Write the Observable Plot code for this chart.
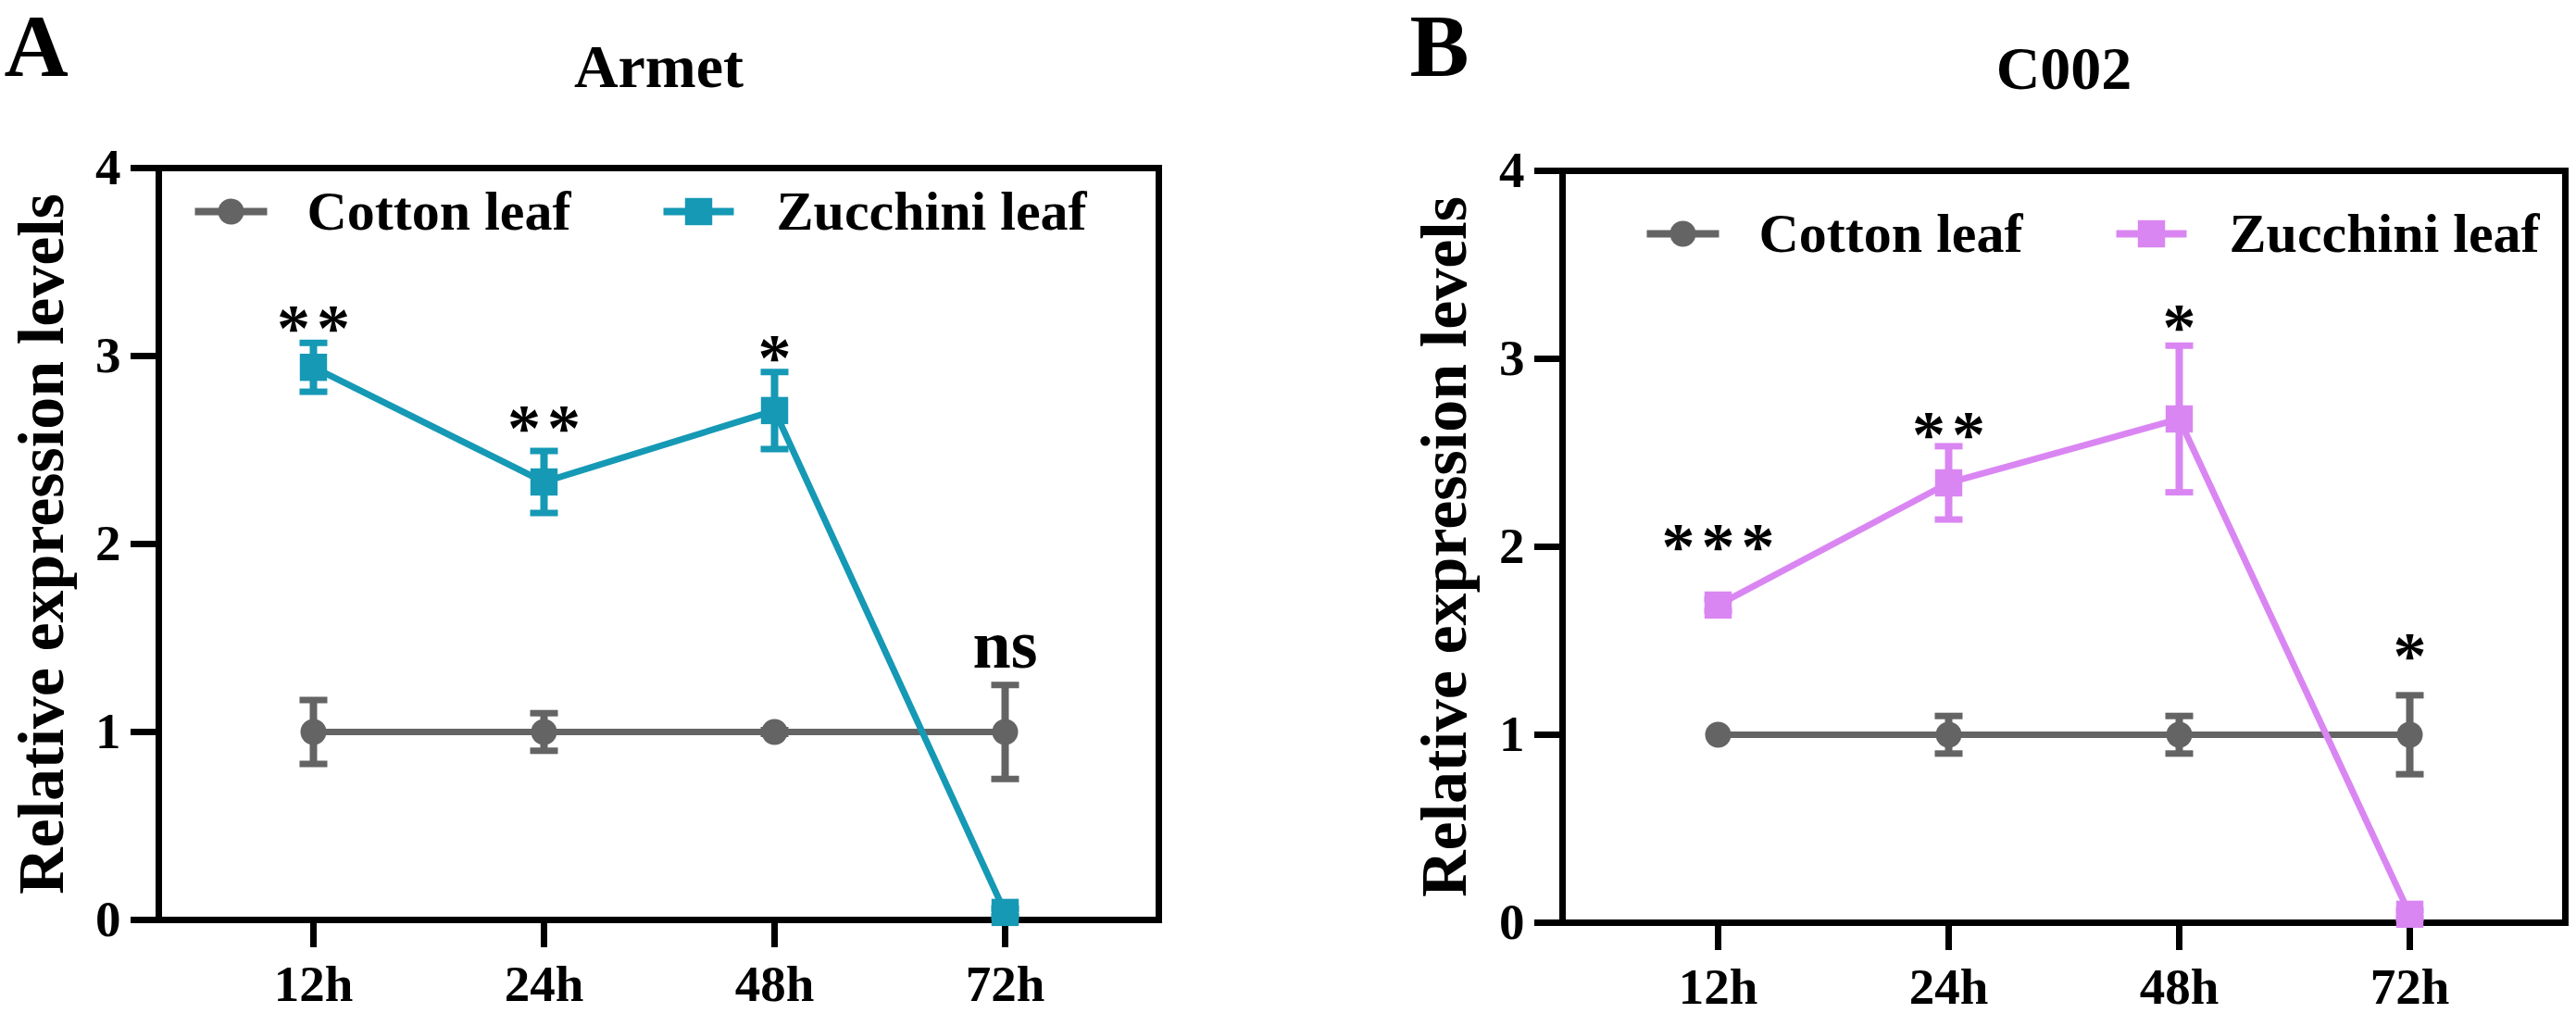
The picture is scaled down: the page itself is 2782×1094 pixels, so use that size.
<!DOCTYPE html>
<html>
<head>
<meta charset="utf-8">
<script src="https://cdn.jsdelivr.net/npm/d3@7"></script>
<script src="https://cdn.jsdelivr.net/npm/@observablehq/plot@0.6"></script>
<style>
  html, body { margin: 0; padding: 0; background: white; }
  #wrap { display: flex; width: 2782px; height: 1094px; }
</style>
</head>
<body>
<div id="wrap"></div>
<script>
// ---- data ----
const times = ["12h", "24h", "48h", "72h"];
const seriesNames = ["Cotton leaf", "Zucchini leaf"];

const armetCotton = [1.00, 1.00, 1.00, 1.00];
const armetCottonErr = [0.17, 0.10, 0.01, 0.25];
const armetZucchini = [2.94, 2.33, 2.71, 0.04];
const armetZucchiniErr = [0.13, 0.165, 0.205, 0.02];
const armetSig = ["**", "**", "*", "ns"];
const armetSigY = [3.20, 2.67, 3.04, 1.43];

const c002Cotton = [1.00, 1.00, 1.00, 1.00];
const c002CottonErr = [0.00, 0.10, 0.10, 0.21];
const c002Zucchini = [1.69, 2.34, 2.68, 0.045];
const c002ZucchiniErr = [0.03, 0.195, 0.39, 0.02];
const c002Sig = ["***", "**", "*", "*"];
const c002SigY = [2.05, 2.65, 3.22, 1.47];

const yTicks = [0, 1, 2, 3, 4];

const GRAY = "#646464";
const TEAL = "#1599B5";
const PINK = "#DA86F2";
const FONT = "'Liberation Serif', 'Times New Roman', Times, serif";

const hLine = { draw(ctx, size) { const w = Math.sqrt(size / Math.PI); ctx.moveTo(-w, 0); ctx.lineTo(w, 0); } };

function rows(vals, errs) {
  return times.map((t, i) => ({ t, v: vals[i], e: errs[i] }));
}

function panel(cfg) {
  const cot = rows(cfg.cotton, cfg.cottonErr);
  const zuc = rows(cfg.zucchini, cfg.zucchiniErr);
  const sig = times.map((t, i) => ({ t, y: cfg.sigY[i], s: cfg.sig[i] }));
  const errMarks = (data, color) => [
    Plot.ruleX(data.filter(d => d.e > 0), { x: "t", y1: d => d.v - d.e, y2: d => d.v + d.e, stroke: color, strokeWidth: 8 }),
    Plot.dot(data.filter(d => d.e > 0), { x: "t", y: d => d.v + d.e, symbol: hLine, r: 15, fill: "none", stroke: color, strokeWidth: 7 }),
    Plot.dot(data.filter(d => d.e > 0), { x: "t", y: d => d.v - d.e, symbol: hLine, r: 15, fill: "none", stroke: color, strokeWidth: 7 })
  ];
  const L = cfg.legend;
  return Plot.plot({
    width: 1391,
    height: 1094,
    marginLeft: cfg.ml, marginRight: cfg.mr, marginTop: cfg.mt, marginBottom: cfg.mb,
    style: { fontFamily: FONT, fontWeight: "bold", background: "white", color: "black", overflow: "visible" },
    x: { type: "point", domain: times, padding: 0.667, label: null },
    y: { domain: [0, 4], label: null },
    marks: [
      Plot.frame({ stroke: "black", strokeWidth: 7 }),
      Plot.axisY({ ticks: yTicks, tickSize: 30, tickPadding: 11, fontSize: 55, fontWeight: "bold", strokeWidth: 7, label: null, tickFormat: d3.format("d") }),
      Plot.axisX({ tickSize: 30, tickPadding: 18, fontSize: 55, fontWeight: "bold", strokeWidth: 7, label: null }),
      // cotton series
      ...errMarks(cot, GRAY),
      Plot.line(cot, { x: "t", y: "v", stroke: GRAY, strokeWidth: 7 }),
      Plot.dot(cot, { x: "t", y: "v", r: 14, fill: GRAY, stroke: "none" }),
      // zucchini series
      ...errMarks(zuc, cfg.color),
      Plot.line(zuc, { x: "t", y: "v", stroke: cfg.color, strokeWidth: 7 }),
      Plot.dot(zuc, { x: "t", y: "v", symbol: "square", r: 16.6, fill: cfg.color, stroke: "none" }),
      // significance
      Plot.text(sig.filter(d => d.s !== "ns"), { x: "t", y: "y", text: "s", fontSize: 72, fontWeight: "bold", lineAnchor: "middle", dy: 11, dx: 3.5 }),
      Plot.text(sig.filter(d => d.s === "ns"), { x: "t", y: "y", text: "s", fontSize: 74, fontWeight: "bold", lineAnchor: "middle", dy: -6 }),
      // legend
      Plot.dot([0], { frameAnchor: "top-left", dx: L.c, dy: L.y, symbol: hLine, r: 39, fill: "none", stroke: GRAY, strokeWidth: 8 }),
      Plot.dot([0], { frameAnchor: "top-left", dx: L.c, dy: L.y, r: 14, fill: GRAY }),
      Plot.text([seriesNames[0]], { frameAnchor: "top-left", dx: L.ct, dy: L.y, textAnchor: "start", lineAnchor: "middle", fontSize: 60, fontWeight: "bold" }),
      Plot.dot([0], { frameAnchor: "top-left", dx: L.z, dy: L.y, symbol: hLine, r: 38, fill: "none", stroke: cfg.color, strokeWidth: 8 }),
      Plot.dot([0], { frameAnchor: "top-left", dx: L.z, dy: L.y, symbol: "square", r: 16.6, fill: cfg.color }),
      Plot.text([seriesNames[1]], { frameAnchor: "top-left", dx: L.zt, dy: L.y, textAnchor: "start", lineAnchor: "middle", fontSize: 60, fontWeight: "bold" }),
      // y label
      Plot.text(["Relative expression levels"], { frameAnchor: "left", rotate: -90, dx: cfg.ylabDx, textAnchor: "middle", lineAnchor: "bottom", fontSize: 70, fontWeight: "bold" }),
      // titles
      Plot.text([cfg.letter], { frameAnchor: "top-left", dx: cfg.letterDx, dy: cfg.letterDy, textAnchor: "start", lineAnchor: "bottom", fontSize: 96, fontWeight: "bold" }),
      Plot.text([cfg.title], { frameAnchor: "top", dy: cfg.titleDy, textAnchor: "middle", lineAnchor: "bottom", fontSize: 66, fontWeight: "bold" })
    ]
  });
}

const wrap = document.getElementById("wrap");
const a = panel({
  cotton: armetCotton, cottonErr: armetCottonErr, zucchini: armetZucchini, zucchiniErr: armetZucchiniErr,
  sig: armetSig, sigY: armetSigY, color: TEAL,
  ml: 171, mr: 140, mt: 181, mb: 101,
  legend: { y: 47, c: 78, ct: 160, z: 583, zt: 667 },
  ylabDx: -104, letter: "A", letterDx: -167, letterDy: -100, title: "Armet", titleDy: -88
});
const b = panel({
  cotton: c002Cotton, cottonErr: c002CottonErr, zucchini: c002Zucchini, zucchiniErr: c002ZucchiniErr,
  sig: c002Sig, sigY: c002SigY, color: PINK,
  ml: 296, mr: 12, mt: 184, mb: 98,
  legend: { y: 68, c: 130, ct: 212, z: 636, zt: 720 },
  ylabDx: -105, letter: "B", letterDx: -165, letterDy: -103, title: "C002", titleDy: -89
});
wrap.appendChild(a);
wrap.appendChild(b);
document.querySelectorAll("svg text").forEach(t => {
  if (/^\*+$/.test(t.textContent)) t.style.letterSpacing = "7px";
});
</script>
</body>
</html>
